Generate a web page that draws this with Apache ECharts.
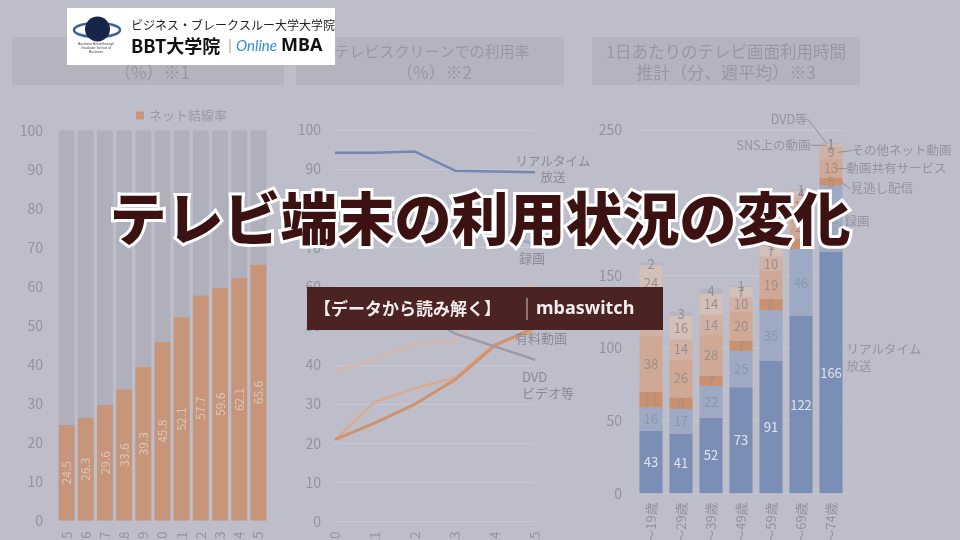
<!DOCTYPE html>
<html lang="ja">
<head>
<meta charset="utf-8">
<title>テレビ端末の利用状況の変化</title>
<script src="https://cdn.jsdelivr.net/npm/echarts@6/dist/echarts.min.js"></script>
<style>
  html, body { margin: 0; padding: 0; background: #bebeca; }
  #chart { width: 960px; height: 540px; }
</style>
</head>
<body>
<div id="chart"></div>
<script>
// left panel: net connection rate
const netYears = ['2015', '2016', '2017', '2018', '2019', '2020', '2021', '2022', '2023', '2024', '2025'];
const netRate = [24.5, 26.3, 29.6, 33.6, 39.3, 45.8, 52.1, 57.7, 59.6, 62.1, 65.6];

// middle panel: usage on the TV screen (%)
const screenYears = ['2020', '2021', '2022', '2023', '2024', '2025'];
const realtimeRate = [94.2, 94.2, 94.5, 89.6, 89.4, 89.2];
const recordedRate = [78, 78, 77, 75, 73, 71];
const freeVideoRate = [38.3, 41.3, 45.4, 46, 55, 61];
const catchupRate = [20.9, 30.6, 34, 36.7, 45.5, 48.5];
const paidVideoRate = [20.9, 25.2, 30, 36.2, 45, 49.5];
const dvdRate = [57, 56, 54, 48, 44.7, 41.3];

// right panel: minutes per day by age group
const ageGroups = ['10～19歳', '20～29歳', '30～39歳', '40～49歳', '50～59歳', '60～69歳', '70～74歳'];
const tvRealtime = [43, 41, 52, 73, 91, 122, 166];
const tvRecorded = [16, 17, 22, 25, 35, 46, 46];
const tvCatchup = [11, 8, 7, 7, 8, 7, 5];
const tvSharing = [38, 26, 28, 20, 19, 17, 13];
const tvOtherNet = [25, 14, 14, 10, 10, 12, 9];
const tvSns = [24, 16, 14, 7, 7, 4, 1];
const tvDvd = [2, 3, 4, 1, 1, 1, 1];

const FONT = '"Noto Sans CJK JP", "Noto Sans", sans-serif';
const axisGray = '#9393a0';
const noteGray = '#8a8a97';
const boxFill = '#b4b4c0';

const chart = echarts.init(document.getElementById('chart'));

const stackData = [tvRealtime, tvRecorded, tvCatchup, tvSharing, tvOtherNet, tvSns, tvDvd];
const lastAge = ageGroups.length - 1;

function segmentCenter(k, i) {
  let base = 0;
  for (let j = 0; j < k; j++) base += stackData[j][i];
  return base + stackData[k][i] / 2;
}

function axisPair(grid, cats, max, interval, boundaryGap, labelMargin) {
  return {
    x: {
      gridIndex: grid, type: 'category', data: cats, boundaryGap,
      axisLine: { show: false }, axisTick: { show: false },
      axisLabel: { rotate: 90, color: axisGray, fontSize: 13, margin: labelMargin },
    },
    y: {
      gridIndex: grid, type: 'value', min: 0, max, interval,
      axisLine: { show: false }, axisTick: { show: false },
      axisLabel: { color: axisGray, fontSize: 14, margin: 14 },
      splitLine: { lineStyle: { color: '#c8c8d2', width: 1 } },
    },
  };
}

const a1 = axisPair(0, netYears, 100, 10, true, 11);
const a2 = axisPair(1, screenYears, 100, 10, false, 10);
const a3 = axisPair(2, ageGroups, 250, 50, true, 9);
a1.y.splitLine.show = false;

function screenLine(name, data, color, width, label) {
  return {
    type: 'line', name, xAxisIndex: 1, yAxisIndex: 1, data,
    symbol: 'none', z: 3,
    lineStyle: { color, width },
    itemStyle: { color },
    endLabel: Object.assign({
      show: true, formatter: () => name, color: noteGray,
      fontSize: 13, lineHeight: 16, distance: 0,
    }, label),
  };
}

function stackBar(name, data, color, labelColor) {
  return {
    type: 'bar', name, stack: 'tv', xAxisIndex: 2, yAxisIndex: 2, data,
    barWidth: '77%',
    itemStyle: { color },
    label: { show: true, position: 'inside', color: labelColor, fontSize: 13 },
  };
}

// side notes for the last bar of the right panel
function tvNote(k, text, side, anchorDx, dx, dy, withLine) {
  return {
    type: 'scatter', xAxisIndex: 2, yAxisIndex: 2, silent: true, z: 5,
    data: [[lastAge, segmentCenter(k, lastAge)]],
    symbolSize: 1, symbolOffset: [anchorDx, 0],
    itemStyle: { color: 'rgba(0,0,0,0)' },
    label: {
      show: true, formatter: text, position: side, distance: 0,
      color: noteGray, fontSize: 12.5, lineHeight: 17, align: side === 'left' ? 'right' : 'left',
    },
    labelLayout: { dx, dy },
    labelLine: { show: withLine, lineStyle: { color: '#8f8f9c', width: 1 } },
  };
}

function headerText(x, y, text, size) {
  return {
    type: 'text', z: 2, x, y,
    style: { text, fill: '#9898a5', fontSize: size || 17, fontFamily: FONT, align: 'center', verticalAlign: 'middle' },
  };
}

const option = {
  backgroundColor: '#bebeca',
  textStyle: { fontFamily: FONT },
  animation: false,
  legend: {
    data: ['ネット結線率'], left: 131, top: 104,
    icon: 'rect', itemWidth: 8, itemHeight: 8, itemGap: 4,
    textStyle: { color: '#9a9aa7', fontSize: 13 },
  },
  grid: [
    { left: 57, width: 211, top: 130.5, height: 390, outerBoundsMode: 'none' },
    { left: 335, width: 200, top: 130, height: 391.5, outerBoundsMode: 'none' },
    { left: 636, width: 210, top: 130, height: 363.3, outerBoundsMode: 'none' },
  ],
  xAxis: [a1.x, a2.x, a3.x],
  yAxis: [a1.y, a2.y, a3.y],
  series: [
    {
      type: 'bar', name: 'ネット結線率', xAxisIndex: 0, yAxisIndex: 0, data: netRate,
      barWidth: '83%',
      showBackground: true, backgroundStyle: { color: '#b0b0bc' },
      itemStyle: { color: '#c7967a' },
      label: { show: true, position: 'inside', rotate: 90, color: '#dcc6b8', fontSize: 12 },
    },

    screenLine('リアルタイム\n放送', realtimeRate, '#7389b3', 2.5, { align: 'center', offset: [18, -3], fontSize: 12.5 }),
    screenLine('録画', recordedRate, '#9ba8c4', 2.5, { align: 'center', offset: [-3, 15] }),
    screenLine('無料動画', freeVideoRate, '#d5b7aa', 2.5, { align: 'center', offset: [6, 10] }),
    screenLine('見逃し配信', catchupRate, '#d9aa90', 2.5, { align: 'center', offset: [6, -12] }),
    screenLine('有料動画', paidVideoRate, '#d0926f', 3, { align: 'center', offset: [6, 10] }),
    screenLine('DVD\nビデオ等', dvdRate, '#9b9baa', 2.5, { align: 'left', offset: [-13, 25] }),

    stackBar('リアルタイム放送', tvRealtime, '#7b8fb6', '#e0e4ee'),
    stackBar('録画', tvRecorded, '#9ea9c4', '#8b96b0'),
    stackBar('見逃し配信', tvCatchup, '#c9916f', '#b08c7c'),
    stackBar('動画共有サービス', tvSharing, '#cfa996', '#9c8e8f'),
    stackBar('その他ネット動画', tvOtherNet, '#d1b1a4', '#9c8e8f'),
    stackBar('SNS上の動画', tvSns, '#d3c0b8', '#9c8e8f'),
    stackBar('DVD等', tvDvd, '#b5b5c3', '#8f8f9c'),

    tvNote(0, 'リアルタイム\n放送', 'right', 12, 3, -15, false),
    tvNote(1, '録画', 'right', 12, 1, 3, false),
    tvNote(2, '見逃し配信', 'right', 9, 10, 7, true),
    tvNote(3, '動画共有サービス', 'right', 6, 9, 0, true),
    tvNote(4, 'その他ネット動画', 'right', 6, 14, -2, true),
    tvNote(5, 'SNS上の動画', 'left', -4, -16, 0, true),
    tvNote(6, 'DVD等', 'left', -4, -19, -25, true),
  ],
  graphic: [
    // panel headers
    { type: 'rect', z: 1, shape: { x: 12, y: 37, width: 272, height: 48 }, style: { fill: boxFill } },
    { type: 'rect', z: 1, shape: { x: 296, y: 37, width: 268, height: 48 }, style: { fill: boxFill } },
    { type: 'rect', z: 1, shape: { x: 592, y: 37, width: 268, height: 48 }, style: { fill: boxFill } },
    headerText(148, 51, 'ネット結線率'),
    headerText(152, 73, '（%）※1'),
    headerText(432, 51, 'テレビスクリーンでの利用率', 15),
    headerText(434, 73, '（%）※2'),
    headerText(726, 52, '1日あたりのテレビ画面利用時間', 16.5),
    headerText(726, 73, '推計（分、週平均）※3'),

    // logo
    { type: 'rect', z: 110, shape: { x: 67, y: 8, width: 268, height: 57 }, style: { fill: '#ffffff' } },
    { type: 'ellipse', z: 111, shape: { cx: 97, cy: 30, rx: 23, ry: 7 }, style: { fill: 'none', stroke: '#3d5f9c', lineWidth: 2.5 } },
    { type: 'circle', z: 112, shape: { cx: 97.5, cy: 29, r: 12.5 }, style: { fill: '#16254a' } },
    { type: 'text', z: 112, x: 96, y: 48, style: { text: 'Business Breakthrough\nGraduate School of\nBusiness', fill: '#445', fontSize: 3.5, lineHeight: 4, align: 'center', verticalAlign: 'middle' } },
    { type: 'text', z: 112, x: 131, y: 25, style: { text: 'ビジネス・ブレークスルー大学大学院', fill: '#222', fontSize: 12, fontFamily: FONT, verticalAlign: 'middle' } },
    { type: 'text', z: 112, x: 131, y: 46, style: { text: 'BBT大学院', fill: '#111', fontSize: 18, fontWeight: 'bold', fontFamily: FONT, verticalAlign: 'middle' } },
    { type: 'line', z: 112, shape: { x1: 230, y1: 39, x2: 230, y2: 53 }, style: { stroke: '#999', lineWidth: 1 } },
    { type: 'text', z: 112, x: 236, y: 46, style: { text: 'Online', fill: '#2f8ed9', fontSize: 15, fontStyle: 'italic', fontFamily: 'Lato, sans-serif', verticalAlign: 'middle' } },
    { type: 'text', z: 112, x: 281, y: 46, style: { text: 'MBA', fill: '#111', fontSize: 18, fontWeight: 'bold', fontFamily: '"Noto Sans", sans-serif', verticalAlign: 'middle' } },

    // big title
    {
      type: 'text', z: 120, x: 480, y: 218,
      style: {
        text: 'テレビ端末の利用状況の変化', fill: '#3c1111', stroke: '#ffffff', lineWidth: 6,
        fontSize: 57, fontWeight: 900, fontFamily: FONT, align: 'center', verticalAlign: 'middle',
      },
    },

    // banner
    { type: 'rect', z: 120, shape: { x: 307, y: 287, width: 356, height: 43 }, style: { fill: '#4b2323' } },
    { type: 'text', z: 121, x: 314, y: 309, style: { text: '【データから読み解く】', fill: '#f3eded', fontSize: 17, fontWeight: 'bold', fontFamily: FONT, verticalAlign: 'middle' } },
    { type: 'line', z: 121, shape: { x1: 527, y1: 298, x2: 527, y2: 320 }, style: { stroke: '#d8c8c8', lineWidth: 1 } },
    { type: 'text', z: 121, x: 536, y: 309, style: { text: 'mbaswitch', fill: '#f3eded', fontSize: 18, fontWeight: 'bold', fontFamily: '"Noto Sans", sans-serif', verticalAlign: 'middle' } },
  ],
};

chart.setOption(option);
</script>
</body>
</html>
